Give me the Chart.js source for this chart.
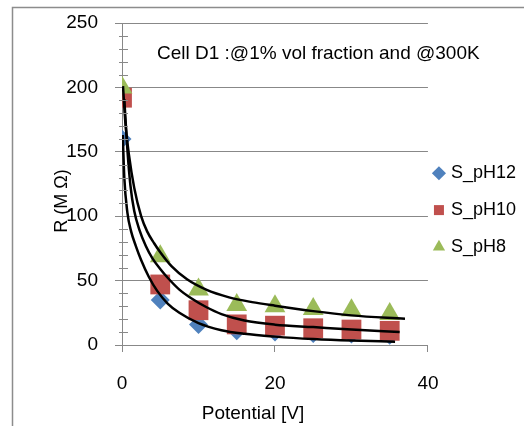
<!DOCTYPE html>
<html>
<head>
<meta charset="utf-8">
<script src="https://cdn.jsdelivr.net/npm/chart.js@4"></script>
<style>
  html, body { margin: 0; padding: 0; background: #fff; }
</style>
</head>
<body>
<canvas id="resChart" width="524" height="426"></canvas>
<script>
// measured points
const potential = [0, 5, 10, 15, 20, 25, 30, 35];
const rPH12 = [160, 35, 16, 11, 10, 9, 8.5, 7.5];
const rPH10 = [192, 47, 27, 16, 15, 13, 12, 11];
const rPH8 = [200, 69, 43, 31, 30, 28, 27, 24];

// trend lines
const fit12X = [0.1, 0.3, 0.7, 1.2, 1.8, 2.5, 3.5, 4.6, 6, 7.5, 10, 13, 16, 20, 25, 30, 35.7];
const fit12Y = [163, 130, 103, 88, 77, 66, 53, 42, 32, 25, 17, 11.5, 8.7, 6.5, 4.6, 3.4, 2.6];
const fit10X = [0.3, 0.7, 1.1, 1.6, 2.3, 3.1, 4, 5, 6, 7.5, 9, 11, 13, 16, 20, 25, 30, 36.3];
const fit10Y = [191, 152, 124, 104, 89, 77, 67, 59, 52, 43, 36.5, 29.5, 24, 19, 15.8, 13.9, 12, 10];
const fit8X = [0.13, 0.45, 0.9, 1.6, 2.5, 3.3, 4.2, 5, 6.5, 8.5, 11, 14, 17, 20, 25, 30, 37];
const fit8Y = [201, 172, 148, 122, 100, 88, 79, 72, 61, 51, 43, 37, 33.3, 30.5, 26.3, 23, 20.3];

const xTicks = [0, 20, 40];
const yMajor = [0, 50, 100, 150, 200, 250];

const chartTitle = 'Cell D1 :@1% vol fraction and @300K';
const xTitle = 'Potential [V]';
const yTitle = 'R (M Ω)';

const FONT = '"Liberation Sans", Arial, sans-serif';
const GRID = '#888888';

function pairs(xs, ys) {
    return xs.map((x, i) => ({ x: x, y: ys[i] }));
}

function pointSet(label, ys, color, style, radius, order) {
    return {
        label: label,
        data: pairs(potential, ys),
        backgroundColor: color,
        borderColor: color,
        borderWidth: 0,
        pointStyle: style,
        pointRadius: radius,
        pointHoverRadius: radius,
        showLine: false,
        order: order
    };
}

function fitSet(xs, ys) {
    return {
        label: 'fit',
        data: pairs(xs, ys),
        showLine: true,
        borderColor: '#000',
        backgroundColor: '#000',
        borderWidth: 2.5,
        pointRadius: 0,
        cubicInterpolationMode: 'monotone',
        tension: 0.4,
        order: 0
    };
}

// outer frame + free text
const decor = {
    id: 'decor',
    beforeDraw(chart) {
        const ctx = chart.ctx;
        ctx.save();
        ctx.fillStyle = '#fff';
        ctx.fillRect(0, 0, chart.width, chart.height);
        ctx.strokeStyle = '#8c8c8c';
        ctx.lineWidth = 1.5;
        ctx.beginPath();
        ctx.moveTo(12.5, chart.height);
        ctx.lineTo(12.5, 7.5);
        ctx.lineTo(chart.width, 7.5);
        ctx.stroke();
        ctx.restore();
    },
    afterDraw(chart) {
        const ctx = chart.ctx;
        const a = chart.chartArea;
        ctx.save();
        ctx.fillStyle = '#000';
        ctx.font = '19px ' + FONT;
        ctx.textBaseline = 'alphabetic';
        ctx.textAlign = 'left';
        ctx.fillText(chartTitle, a.left + 35, a.top + 36);
        ctx.textAlign = 'center';
        ctx.fillText(xTitle, a.left + 131, a.bottom + 74);
        ctx.font = '18px ' + FONT;
        ctx.translate(67, a.top + 178);
        ctx.rotate(-Math.PI / 2);
        ctx.fillText(yTitle, 0, 0);
        ctx.restore();
    }
};

// minor tick marks crossing the value axis
const minorTicks = {
    id: 'minorTicks',
    afterDatasetsDraw(chart) {
        const ctx = chart.ctx;
        const ys = chart.scales.y;
        const ax = chart.chartArea.left;
        ctx.save();
        ctx.strokeStyle = GRID;
        ctx.lineWidth = 1;
        ys.ticks.forEach(t => {
            if (yMajor.includes(t.value)) return;
            const py = Math.round(ys.getPixelForValue(t.value)) + 0.5;
            ctx.beginPath();
            ctx.moveTo(ax - 3, py);
            ctx.lineTo(ax + 6, py);
            ctx.stroke();
        });
        ctx.restore();
    }
};

Chart.defaults.font.family = FONT;
Chart.defaults.color = '#000';

const ctx = document.getElementById('resChart').getContext('2d');
const resChart = new Chart(ctx, {
    type: 'scatter',
    data: {
        datasets: [
            pointSet('S_pH12', rPH12, '#4F81BD', 'rectRot', 9.5, 3),
            pointSet('S_pH10', rPH10, '#C0504D', 'rect', 14, 2),
            pointSet('S_pH8', rPH8, '#9BBB59', 'triangle', 12, 1),
            fitSet(fit12X, fit12Y),
            fitSet(fit10X, fit10Y),
            fitSet(fit8X, fit8Y)
        ]
    },
    options: {
        responsive: false,
        animation: false,
        devicePixelRatio: 1,
        layout: { padding: { top: 23, bottom: 18, left: 0, right: -2 } },
        plugins: {
            tooltip: { enabled: false },
            title: { display: false },
            legend: {
                position: 'right',
                labels: {
                    usePointStyle: true,
                    boxWidth: 6,
                    boxHeight: 10,
                    padding: 8,
                    color: '#000',
                    font: { size: 18, lineHeight: 1.6 },
                    filter: item => item.datasetIndex < 3,
                    sort: (a, b) => a.datasetIndex - b.datasetIndex,
                    generateLabels: chart => Chart.defaults.plugins.legend.labels.generateLabels(chart)
                        .map(item => Object.assign(item, { text: [item.text] }))
                }
            }
        },
        scales: {
            x: {
                type: 'linear',
                min: 0,
                max: 40,
                afterBuildTicks: s => { s.ticks = xTicks.map(v => ({ value: v })); },
                afterFit: s => { s.height = 63; },
                border: { color: GRID, width: 1 },
                grid: { drawOnChartArea: false, color: GRID, tickLength: 7 },
                ticks: { font: { size: 19 }, padding: 20, color: '#000' }
            },
            y: {
                min: 0,
                max: 250,
                afterFit: s => { s.width = 122; },
                border: { color: GRID, width: 1 },
                grid: {
                    color: c => yMajor.includes(c.tick.value) ? GRID : 'rgba(0,0,0,0)',
                    tickColor: c => yMajor.includes(c.tick.value) ? GRID : 'rgba(0,0,0,0)',
                    tickLength: 7
                },
                ticks: {
                    stepSize: 10,
                    autoSkip: false,
                    maxTicksLimit: 40,
                    padding: 17,
                    font: { size: 19, lineHeight: 0.6 },
                    color: '#000',
                    callback: v => yMajor.includes(v) ? v : ''
                }
            }
        }
    },
    plugins: [decor, minorTicks]
});
</script>
</body>
</html>
